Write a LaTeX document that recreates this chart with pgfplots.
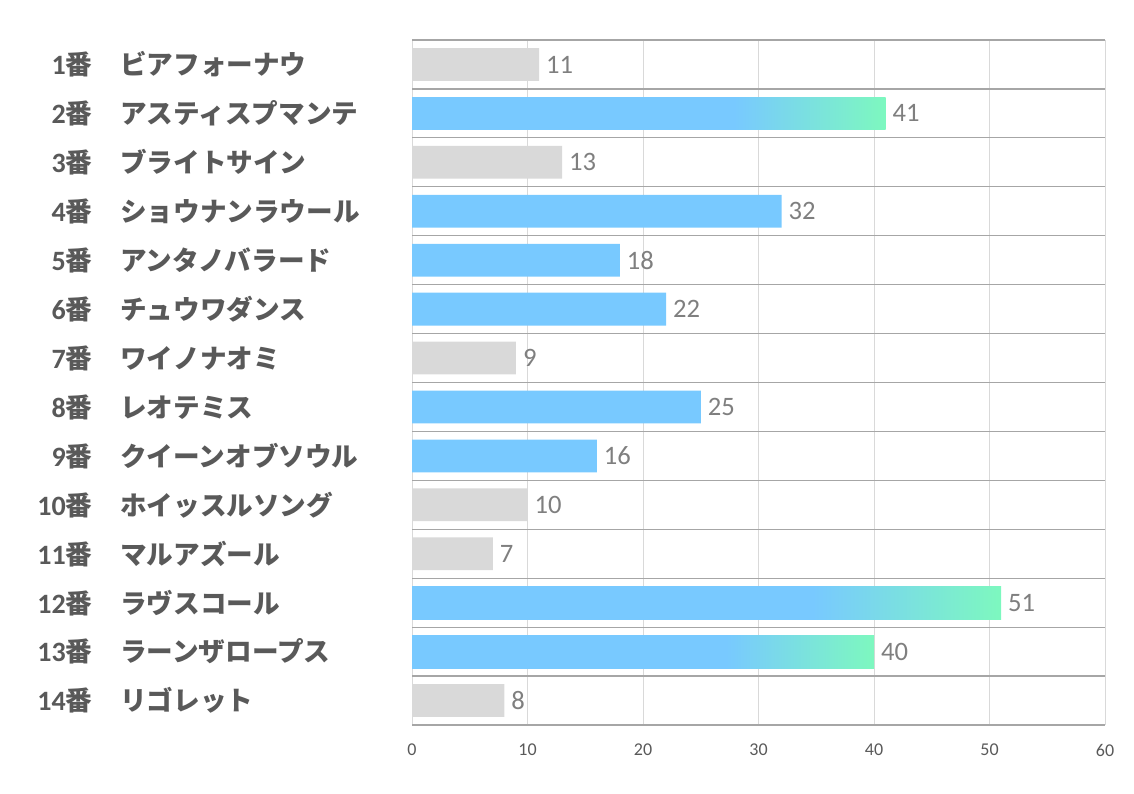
\documentclass[border=0pt]{standalone}
\usepackage{pgfplots}
\pgfplotsset{compat=1.18}
\usepackage{fontspec}
\setmainfont{Carlito}
\newfontfamily\jpfont{Noto Sans CJK JP}
\definecolor{barblue}{HTML}{78C9FF}
\definecolor{bargreen}{HTML}{7DF8BF}
\definecolor{bargray}{HTML}{D9D9D9}
\definecolor{gridgray}{HTML}{D9D9D9}
\definecolor{rowgray}{HTML}{A6A6A6}
\definecolor{lblgray}{HTML}{595959}
\definecolor{valgray}{HTML}{7F7F7F}
\pgfdeclarehorizontalshading{bluegreen}{100bp}{color(0bp)=(barblue); color(25bp)=(barblue); color(59bp)=(barblue); color(75bp)=(bargreen); color(100bp)=(bargreen)}
\newcommand\lab[2]{\makebox[26pt][r]{{\rmfamily\bfseries\fontsize{14}{15}\selectfont #1}番}\hspace{14pt}#2}
\begin{document}
\begin{tikzpicture}
\useasboundingbox (0,0) rectangle (567pt,396.5pt);
\begin{axis}[
  at={(206pt,34pt)}, anchor=south west,
  scale only axis, width=346.5pt, height=342.5pt,
  xmin=0, xmax=60, ymin=0.5, ymax=14.5,
  y dir=reverse,
  xtick={0,10,...,60},
  ytick={1,...,14},
  minor ytick={0.5,1.5,...,14.5},
  major tick length=0pt, minor tick length=0pt,
  xmajorgrids, yminorgrids,
  major grid style={draw=gridgray, line width=0.5pt},
  minor grid style={draw=rowgray, line width=0.6pt},
  axis line style={draw=none},
  /pgf/number format/assume math mode=true,
  xticklabel style={font=\fontsize{9}{10}\selectfont, text=lblgray, yshift=-6pt},
  yticklabel style={anchor=west, xshift=-186pt, inner sep=0pt, font=\jpfont\bfseries\fontsize{13.3}{15}\selectfont, text=lblgray},
  yticklabels={\lab{1}{ビアフォーナウ},\lab{2}{アスティスプマンテ},\lab{3}{ブライトサイン},\lab{4}{ショウナンラウール},\lab{5}{アンタノバラード},\lab{6}{チュウワダンス},\lab{7}{ワイノナオミ},\lab{8}{レオテミス},\lab{9}{クイーンオブソウル},\lab{10}{ホイッスルソング},\lab{11}{マルアズール},\lab{12}{ラヴスコール},\lab{13}{ラーンザロープス},\lab{14}{リゴレット}},
  point meta=x,
  nodes near coords,
  every node near coord/.append style={font=\fontsize{13.3}{15}\selectfont, text=valgray, anchor=west},
]
\addplot[xbar, bar shift=0pt, bar width=0.67, draw=none, fill=bargray] coordinates {(11,1) (13,3) (9,7) (10,10) (7,11) (8,14)};
\addplot[xbar, bar shift=0pt, bar width=0.67, draw=none, fill=barblue] coordinates {(32,4) (18,5) (22,6) (25,8) (16,9)};
\addplot[xbar, bar shift=0pt, bar width=0.67, draw=none, shade, shading=bluegreen] coordinates {(41,2)};
\addplot[xbar, bar shift=0pt, bar width=0.67, draw=none, shade, shading=bluegreen] coordinates {(51,12)};
\addplot[xbar, bar shift=0pt, bar width=0.67, draw=none, shade, shading=bluegreen] coordinates {(40,13)};
\end{axis}
\end{tikzpicture}
\end{document}
